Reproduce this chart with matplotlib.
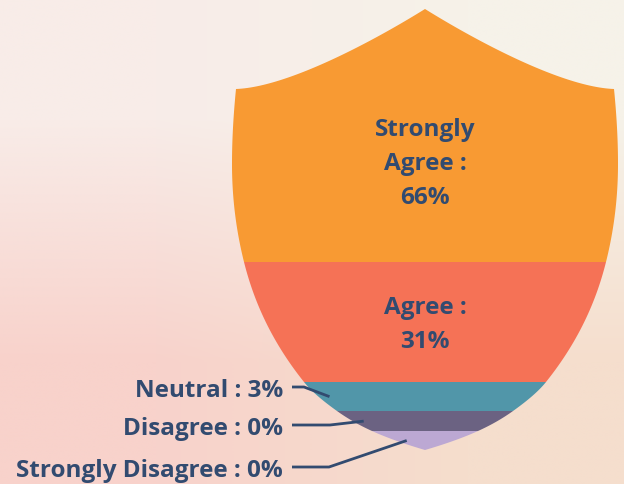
import numpy as np
import matplotlib
matplotlib.use("Agg")
import matplotlib.pyplot as plt
from matplotlib.path import Path
from matplotlib.patches import PathPatch

# data
categories = ["Strongly Agree", "Agree", "Neutral", "Disagree", "Strongly Disagree"]
percents = [66, 31, 3, 0, 0]
# share of the shield height each slice takes
shares = [57.4, 27.2, 6.6, 4.5, 4.3]
colors = ["#f89a33", "#f57256", "#5196a9", "#6b6282", "#bca8d3"]
inside = [True, True, False, False, False]

TXT = "#324b70"
W, H = 624, 485

plt.rcParams['font.family'] = ['Open Sans', 'DejaVu Sans']


def bez(p0, p1, p2, p3, n=60):
    t = np.linspace(0, 1, n)[:, None]
    p0, p1, p2, p3 = map(np.asarray, (p0, p1, p2, p3))
    return ((1 - t) ** 3) * p0 + 3 * ((1 - t) ** 2) * t * p1 + 3 * (1 - t) * t ** 2 * p2 + t ** 3 * p3


def hermite(ys, xs, ds, n=30):
    out = []
    for i in range(len(ys) - 1):
        h = ys[i + 1] - ys[i]
        s = np.linspace(0, 1, n, endpoint=False)
        h00 = 2 * s ** 3 - 3 * s ** 2 + 1
        h10 = s ** 3 - 2 * s ** 2 + s
        h01 = -2 * s ** 3 + 3 * s ** 2
        h11 = s ** 3 - s ** 2
        x = h00 * xs[i] + h10 * h * ds[i] + h01 * xs[i + 1] + h11 * h * ds[i + 1]
        out.append(np.column_stack([x, ys[i] + s * h]))
    out.append(np.array([[xs[-1], ys[-1]]]))
    return np.vstack(out)


cx = 425
# right half of the shield outline, top peak -> shoulder -> bottom tip
top = bez((425, 10), (470, 38), (560, 88), (614, 90))
side = hermite([90, 165, 263, 383, 412, 432, 451],
               [614, 618, 606, 546, 513, 478, 425],
               [0.1, 0.0, -0.25, -0.8, -1.4, -2.2, -3.4])
right = np.vstack([top, side[1:]])
left = right[::-1].copy()
left[:, 0] = 2 * cx - left[:, 0]
outline = np.vstack([right, left[1:]])
shield = Path(outline, closed=True)

fig = plt.figure(figsize=(W / 100, H / 100), dpi=100)
ax = fig.add_axes([0, 0, 1, 1])
ax.set_xlim(0, W)
ax.set_ylim(H, 0)
ax.axis('off')

# soft background
bg = np.array([[[248, 236, 232], [246, 242, 233]],
               [[248, 210, 203], [245, 222, 205]]]) / 255.0
ax.imshow(bg, extent=(0, W, H, 0), interpolation='bilinear', aspect='auto', zorder=0)

y0, y1 = outline[:, 1].min(), outline[:, 1].max()
heights = np.array(shares) / sum(shares) * (y1 - y0)
bottoms = y0 + np.concatenate([[0], np.cumsum(heights)[:-1]])

clip = PathPatch(shield, facecolor='none', edgecolor='none', transform=ax.transData)
ax.add_patch(clip)
bars = ax.bar([cx] * len(shares), heights, bottom=bottoms, width=420,
              color=colors, linewidth=0, zorder=2)
for b in bars:
    b.set_clip_path(clip)

# centroid of each clipped slice
gx, gy = np.meshgrid(np.arange(200, 650, 2.0), np.arange(0, 470, 1.0))
gp = np.column_stack([gx.ravel(), gy.ravel()])
mask = shield.contains_points(gp)
ys_in = gp[mask, 1]

out_label_base = [397, 435, 477]
knees = [304, 330, 329]
lm = left[left[:, 1] > 200]
k = 0
for i, name in enumerate(categories):
    lo, hi = bottoms[i], bottoms[i] + heights[i]
    if inside[i]:
        sel = ys_in[(ys_in >= lo) & (ys_in < hi)]
        cy = sel.mean()
        txt = name.replace(" ", "\n") + " :\n%d%%" % percents[i]
        ax.text(cx, cy + 5, txt, ha='center', va='center', fontsize=17.5,
                fontweight='bold', color=TXT, linespacing=1.56, zorder=4)
    else:
        ty = (lo + hi) / 2
        # left edge of the shield at that height
        ex = np.interp(ty, lm[::-1, 1], lm[::-1, 0])
        tx = ex + 11
        ly = out_label_base[k] - 9
        ax.plot([292, knees[k], tx], [ly, ly, ty], color=TXT, lw=2,
                solid_capstyle='butt', zorder=5)
        ax.text(283, out_label_base[k], "%s : %d%%" % (name, percents[i]),
                ha='right', va='baseline', fontsize=17.5, fontweight='bold',
                color=TXT, zorder=4)
        k += 1

fig.savefig("out.png", dpi=100)
